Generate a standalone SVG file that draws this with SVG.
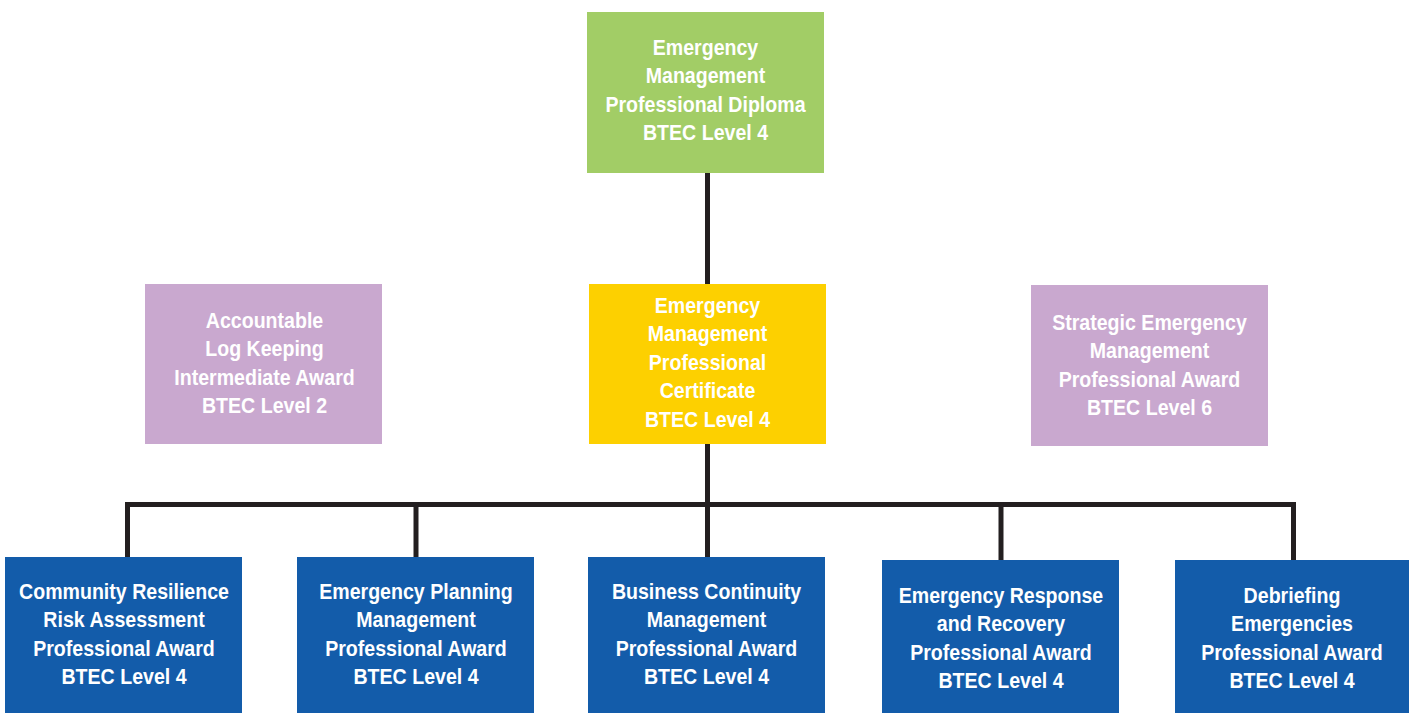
<svg xmlns="http://www.w3.org/2000/svg" width="1409" height="713" viewBox="0 0 1409 713">
<style>
text{font-family:"Liberation Sans",Arial,sans-serif;font-weight:bold;font-size:22px;fill:#ffffff;text-anchor:middle}
.green{fill:#A2CD66}.yellow{fill:#FDD000}.purple{fill:#C9A8CF}.blue{fill:#135CAA}
.conn{stroke:#231F20;stroke-width:5;fill:none;stroke-linecap:square}
</style>
<rect width="1409" height="713" fill="#ffffff"/>
<g id="connectors">
<line class="conn" x1="707.5" y1="173" x2="707.5" y2="284"/>
<line class="conn" x1="707.5" y1="444" x2="707.5" y2="557"/>
<polyline class="conn" points="127.5,557 127.5,504.5 1293.5,504.5 1293.5,560"/>
<line class="conn" x1="416" y1="504.5" x2="416" y2="557"/>
<line class="conn" x1="1001" y1="504.5" x2="1001" y2="560"/>
</g>
<g id="diploma">
<rect class="green" x="587" y="12" width="237" height="161"/>
<g transform="translate(705.5 0) scale(0.89 1)">
<text x="0" y="55">Emergency</text>
<text x="0" y="83.5">Management</text>
<text x="0" y="112">Professional Diploma</text>
<text x="0" y="140.5">BTEC Level 4</text>
</g>
</g>
<g id="certificate">
<rect class="yellow" x="589" y="284" width="237" height="160"/>
<g transform="translate(707.5 0) scale(0.89 1)">
<text x="0" y="313">Emergency</text>
<text x="0" y="341.5">Management</text>
<text x="0" y="370">Professional</text>
<text x="0" y="398.5">Certificate</text>
<text x="0" y="427">BTEC Level 4</text>
</g>
</g>
<g id="logkeeping">
<rect class="purple" x="145" y="284" width="237" height="160"/>
<g transform="translate(264.5 0) scale(0.89 1)">
<text x="0" y="328">Accountable</text>
<text x="0" y="356.5">Log Keeping</text>
<text x="0" y="385">Intermediate Award</text>
<text x="0" y="413.5">BTEC Level 2</text>
</g>
</g>
<g id="strategic">
<rect class="purple" x="1031" y="285" width="237" height="161"/>
<g transform="translate(1149.5 0) scale(0.89 1)">
<text x="0" y="330">Strategic Emergency</text>
<text x="0" y="358.5">Management</text>
<text x="0" y="387">Professional Award</text>
<text x="0" y="415.5">BTEC Level 6</text>
</g>
</g>
<g id="community">
<rect class="blue" x="5" y="557" width="237" height="156"/>
<g transform="translate(124 0) scale(0.89 1)">
<text x="0" y="599">Community Resilience</text>
<text x="0" y="627.5">Risk Assessment</text>
<text x="0" y="656">Professional Award</text>
<text x="0" y="684.5">BTEC Level 4</text>
</g>
</g>
<g id="planning">
<rect class="blue" x="297" y="557" width="237" height="156"/>
<g transform="translate(416 0) scale(0.89 1)">
<text x="0" y="599">Emergency Planning</text>
<text x="0" y="627.5">Management</text>
<text x="0" y="656">Professional Award</text>
<text x="0" y="684.5">BTEC Level 4</text>
</g>
</g>
<g id="continuity">
<rect class="blue" x="588" y="557" width="237" height="156"/>
<g transform="translate(706.5 0) scale(0.89 1)">
<text x="0" y="599">Business Continuity</text>
<text x="0" y="627.5">Management</text>
<text x="0" y="656">Professional Award</text>
<text x="0" y="684.5">BTEC Level 4</text>
</g>
</g>
<g id="response">
<rect class="blue" x="882" y="560" width="237" height="153"/>
<g transform="translate(1001 0) scale(0.89 1)">
<text x="0" y="603">Emergency Response</text>
<text x="0" y="631.5">and Recovery</text>
<text x="0" y="660">Professional Award</text>
<text x="0" y="688.5">BTEC Level 4</text>
</g>
</g>
<g id="debriefing">
<rect class="blue" x="1175" y="560" width="237" height="153"/>
<g transform="translate(1292 0) scale(0.89 1)">
<text x="0" y="603">Debriefing</text>
<text x="0" y="631.5">Emergencies</text>
<text x="0" y="660">Professional Award</text>
<text x="0" y="688.5">BTEC Level 4</text>
</g>
</g>
</svg>
